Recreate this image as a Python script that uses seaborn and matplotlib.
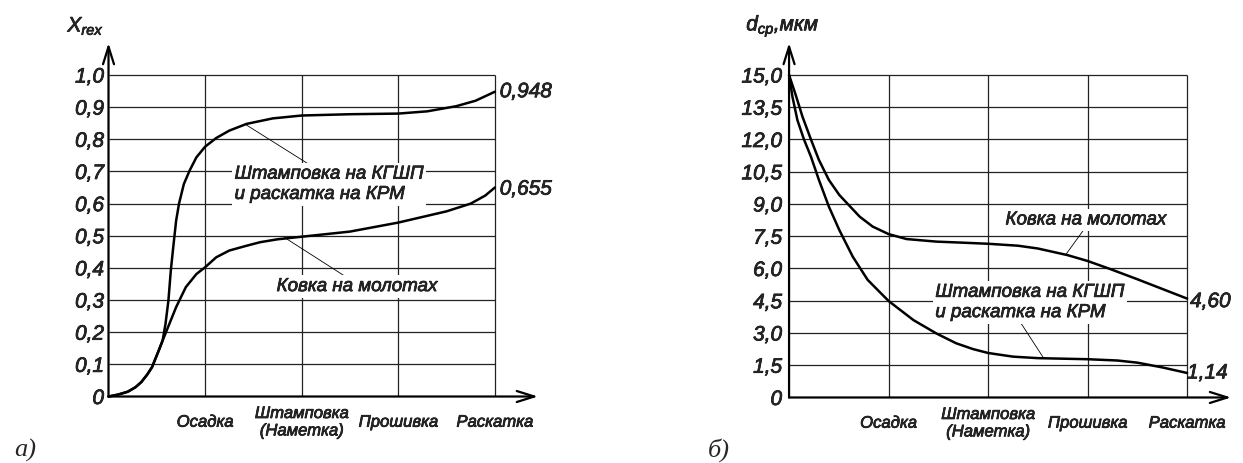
import numpy as np
import pandas as pd
import seaborn as sns
import matplotlib.pyplot as plt
import matplotlib.patheffects as pe
from matplotlib.text import Text

sns.set_style('white')
plt.rcParams['font.family'] = ['Liberation Sans', 'DejaVu Sans']
plt.rcParams['mathtext.fontset'] = 'custom'
plt.rcParams['mathtext.it'] = 'Liberation Sans:italic'
plt.rcParams['mathtext.rm'] = 'Liberation Sans:italic'

# стадии обработки (ось X обоих графиков)
stages = ['Осадка', 'Штамповка\n(Наметка)', 'Прошивка', 'Раскатка']
stage_pos = [1, 2, 3, 4]

#%% а) доля рекристаллизованного объёма X_rex
a_x_kgshp = [0.0, 0.1, 0.2, 0.28, 0.34, 0.4, 0.45, 0.52, 0.56, 0.59, 0.62, 0.645, 0.67, 0.7,
             0.73, 0.78, 0.84, 0.91, 1.0, 1.115, 1.25, 1.43, 1.7, 2.0, 2.5, 3.0, 3.3,
             3.6, 3.8, 4.0]
a_y_kgshp = [0.0, 0.006, 0.015, 0.029, 0.045, 0.068, 0.091, 0.143, 0.174, 0.226, 0.298, 0.392, 0.464,
             0.547, 0.60, 0.661, 0.703, 0.744, 0.777, 0.804, 0.827, 0.848, 0.865, 0.874, 0.878, 0.88,
             0.887, 0.903, 0.92, 0.948]
a_x_kovka = [0.0, 0.1, 0.2, 0.28, 0.34, 0.4, 0.45, 0.52, 0.56, 0.63, 0.7, 0.8, 0.91, 1.0, 1.115,
             1.25, 1.43, 1.57, 1.75, 2.0, 2.5, 3.0, 3.5, 3.75, 3.9, 4.0]
a_y_kovka = [0.0, 0.006, 0.015, 0.029, 0.045, 0.068, 0.091, 0.143, 0.174, 0.226, 0.278, 0.34, 0.381,
             0.402, 0.433, 0.454, 0.469, 0.48, 0.489, 0.497, 0.513, 0.541, 0.576, 0.60, 0.625, 0.65]
a_yticks = [0, 0.1, 0.2, 0.3, 0.4, 0.5, 0.6, 0.7, 0.8, 0.9, 1.0]
a_ylabels = ['0', '0,1', '0,2', '0,3', '0,4', '0,5', '0,6', '0,7', '0,8', '0,9', '1,0']

#%% б) средний размер зерна d_ср, мкм
b_x_kovka = [0.0, 0.067, 0.135, 0.22, 0.3, 0.4, 0.505, 0.59, 0.71, 0.84, 1.0, 1.18, 1.48,
             1.75, 2.0, 2.3, 2.5, 2.8, 3.0, 3.23, 3.5, 3.75, 4.0]
b_y_kovka = [15.0, 14.07, 13.06, 12.0, 11.05, 10.12, 9.42, 9.0, 8.41, 7.95, 7.6, 7.37, 7.25,
             7.2, 7.15, 7.06, 6.93, 6.62, 6.35, 5.97, 5.5, 5.05, 4.6]
b_x_kgshp = [0.0, 0.034, 0.084, 0.15, 0.22, 0.3, 0.4, 0.505, 0.64, 0.79, 1.0, 1.25, 1.48,
             1.68, 1.85, 2.0, 2.25, 2.5, 3.0, 3.3, 3.5, 3.75, 4.0]
b_y_kgshp = [15.0, 13.99, 12.9, 12.0, 11.2, 10.12, 8.88, 7.79, 6.55, 5.47, 4.49, 3.6, 2.98,
             2.52, 2.25, 2.07, 1.9, 1.83, 1.78, 1.72, 1.62, 1.4, 1.14]
b_yticks = [0, 1.5, 3.0, 4.5, 6.0, 7.5, 9.0, 10.5, 12.0, 13.5, 15.0]
b_ylabels = ['0', '1,5', '3,0', '4,5', '6,0', '7,5', '9,0', '10,5', '12,0', '13,5', '15,0']

label_kgshp = 'Штамповка на КГШП\nи раскатка на КРМ'
label_kovka = 'Ковка на молотах'


def panel(ax, curves, yticks, ylabels, xmax, ymax, ypad):
    top = yticks[-1]
    ax.hlines(yticks[1:], 0, 4, colors='#222222', lw=0.9, zorder=1)
    ax.vlines(stage_pos, 0, top, colors='#222222', lw=0.9, zorder=1)
    for x, y in curves:
        df = pd.DataFrame({'x': x, 'y': y})
        sns.lineplot(data=df, x='x', y='y', ax=ax, color='black', lw=1.8,
                     estimator=None, sort=False, zorder=3)
    for ln in ax.lines:
        ln.set_clip_on(False)
        ln.set_solid_joinstyle('round')
    arr = dict(arrowstyle='->,head_length=0.7,head_width=0.22', lw=1.6, color='black',
               mutation_scale=18, shrinkA=0, shrinkB=0)
    ax.annotate('', xy=(xmax, 0), xytext=(0, 0), arrowprops=arr, annotation_clip=False)
    ax.annotate('', xy=(0, ymax), xytext=(0, 0), arrowprops=arr, annotation_clip=False)
    ax.set_xlim(0, xmax)
    ax.set_ylim(0, ymax)
    ax.set_xticks(stage_pos, labels=stages, fontsize=12, style='italic', va='center',
                  linespacing=1.2)
    ax.set_yticks(yticks, labels=ylabels, fontsize=15, style='italic')
    ax.tick_params(axis='x', length=0, pad=18.5)
    ax.tick_params(axis='y', length=0, pad=ypad)
    ax.set_xlabel('')
    ax.set_ylabel('')
    sns.despine(ax=ax, left=True, bottom=True)


fig = plt.figure(figsize=(12.43, 4.63), dpi=100)
ax1 = fig.add_axes([0.0873, 0.1436, 0.3455, 0.7635])
ax2 = fig.add_axes([0.6348, 0.1415, 0.3556, 0.7657])

panel(ax1, [(a_x_kgshp, a_y_kgshp), (a_x_kovka, a_y_kovka)], a_yticks, a_ylabels,
      4.446, 1.0995, 3.2)
panel(ax2, [(b_x_kovka, b_y_kovka), (b_x_kgshp, b_y_kgshp)], b_yticks, b_ylabels,
      4.442, 16.49, 5)

box = dict(facecolor='white', edgecolor='none', pad=2)

# подписи к графику а)
ax1.text(-0.233, 1.152, '$X_{rex}$', ha='center', va='center', fontsize=15)
ax1.text(1.305, 0.66, label_kgshp, ha='left', va='center', fontsize=13.5, style='italic',
         linespacing=1.25, bbox=box, zorder=4)
ax1.plot([1.42, 2.06], [0.846, 0.725], color='black', lw=0.6, zorder=2)
ax1.text(1.74, 0.342, label_kovka, ha='left', va='center', fontsize=13.5, style='italic',
         bbox=box, zorder=4)
ax1.plot([1.82, 2.48], [0.495, 0.368], color='black', lw=0.6, zorder=2)
ax1.text(4.05, 0.948, '0,948', ha='left', va='center', fontsize=15, style='italic')
ax1.text(4.05, 0.645, '0,655', ha='left', va='center', fontsize=15, style='italic')

# подписи к графику б)
ax2.text(-0.43, 17.28, '$d_{ср}$,мкм', ha='left', va='center', fontsize=15, style='italic')
ax2.text(2.175, 8.26, label_kovka, ha='left', va='center', fontsize=13.5, style='italic',
         bbox=box, zorder=4)
ax2.plot([2.78, 2.96], [6.64, 7.79], color='black', lw=0.6, zorder=2)
ax2.text(1.47, 4.42, label_kgshp, ha='left', va='center', fontsize=13.5, style='italic',
         linespacing=1.25, bbox=box, zorder=4)
ax2.plot([2.56, 2.32], [1.82, 3.53], color='black', lw=0.6, zorder=2)
ax2.text(4.03, 4.46, '4,60', ha='left', va='center', fontsize=15, style='italic')
ax2.text(4.0, 1.14, '1,14', ha='left', va='center', fontsize=15, style='italic')

# чуть утолщаем шрифт, как в чертёжном оригинале
for t in fig.findobj(Text):
    t.set_path_effects([pe.withStroke(linewidth=0.5, foreground='black')])

fig.text(25 / 1243, 1 - 450 / 463, 'а)', ha='center', va='center', fontsize=19,
         family='Liberation Serif', style='italic')
fig.text(719 / 1243, 1 - 450 / 463, 'б)', ha='center', va='center', fontsize=19,
         family='Liberation Serif', style='italic')

fig.savefig('out.png', dpi=100, facecolor='white')
